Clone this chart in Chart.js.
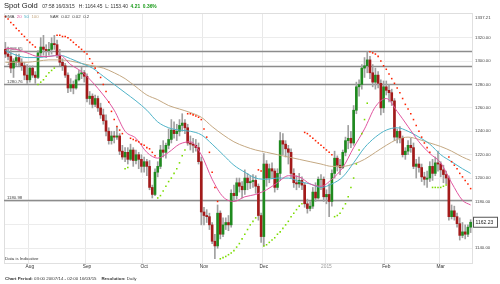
<!DOCTYPE html>
<html>
<head>
<meta charset="utf-8">
<script src="https://cdn.jsdelivr.net/npm/chart.js@4.4.1/dist/chart.umd.min.js"></script>
<style>
  html, body { margin: 0; padding: 0; background: #fff; }
  #wrap { position: relative; width: 500px; height: 284px; font-family: "Liberation Sans", Arial, sans-serif; color: #333; }
  #wrap canvas { position: absolute; left: 0; top: 0; }
  .t { position: absolute; white-space: nowrap; line-height: 1; }
  .head { left: 4px; top: 2px; font-size: 4.9px; }
  .head .name { font-size: 7.6px; color: #222; margin-right: 3px; }
  .head .up { color: #1a9a1a; font-weight: bold; }
  .lg { left: 5px; top: 14.5px; font-size: 4.4px; color: #444; }
  .note { left: 5px; top: 257px; font-size: 4.4px; color: #333; }
  .foot { left: 5px; top: 277px; font-size: 4.4px; color: #333; }
  .foot b { font-weight: bold; }
</style>
</head>
<body>
<div id="wrap">
  <canvas id="chartGold" width="500" height="284"></canvas>
  <div class="t head"><span class="name">Spot Gold</span> 07:58 16/03/15 &nbsp; H: 1164.45 &nbsp;L: 1153.40 &nbsp;<span class="up">4.21 &nbsp;0.36%</span></div>
  <div class="t lg">EMA &nbsp;<span style="color:#e0559f">20</span> &nbsp;<span style="color:#4fb3c8">50</span> &nbsp;<span style="color:#c4a882">100</span> &nbsp; &nbsp; &nbsp; &nbsp; SAR &nbsp;0.02 &nbsp;0.02 &nbsp;0.2</div>
  <div class="t note">Data is Indicative</div>
  <div class="t foot"><b>Chart Period:</b> 03:00 20/07/14 - 02:00 16/03/15 &nbsp; &nbsp;<b>Resolution:</b> Daily</div>
</div>
<script>
// Spot Gold - candele giornaliere con EMA 20/50/100 e Parabolic SAR
// ------------------------------
const monthNames = ['Aug', 'Sep', 'Oct', 'Nov', 'Dec', '2015', 'Feb', 'Mar'];
const monthStart = [9, 30, 51, 73, 95, 118, 140, 160];
const yTicks = [1140, 1160, 1180, 1200, 1220, 1240, 1260, 1280, 1300, 1320, 1337.21];
const levels = [1308.65, 1296.13, 1280.76, 1180.98];

const open = [
  1310,1306,1304,1294,1300,1303,1299,1296,1288,
  1284,1294,1288,1286,1307,1312,1310,1309,1310,1315,1314,1305,1299,1296,1288,1277,1280,1277,1284,1289,1290,
  1287,1268,1270,1263,1268,1260,1254,1249,1240,1232,1236,1235,1236,1223,1218,1222,1216,1224,1215,1220,1216,
  1210,1214,1210,1192,1186,1205,1210,1224,1222,1228,1233,1241,1238,1240,1245,1247,1243,1230,1229,1228,1226,1214,
  1171,1168,1167,1160,1146,1142,1170,1152,1160,1162,1160,1187,1185,1196,1193,1190,1200,1196,1197,1198,1193,1168,
  1150,1212,1200,1208,1206,1192,1204,1232,1229,1225,1222,1204,1196,1195,1198,1194,1178,1174,1176,1188,1183,1199,1199,
  1184,1186,1180,1204,1217,1211,1209,1222,1232,1234,1230,1258,1278,1280,1294,1296,1301,1290,1282,1288,1281,1260,
  1278,1275,1273,1266,1235,1240,1234,1220,1223,1228,1226,1210,1212,1209,1201,1199,1200,1210,1204,1213,
  1212,1207,1203,1200,1167,1172,1167,1161,1151,1154,1152,1158.02
];
const high = [
  1316,1312,1309,1302,1306,1306,1302,1299,1297,
  1296,1296,1291,1309,1320,1322,1314,1316,1320,1322,1318,1310,1302,1298,1290,1285,1283,1288,1292,1295,1292,
  1289,1274,1272,1271,1270,1264,1259,1254,1243,1240,1240,1244,1238,1228,1226,1226,1229,1226,1224,1222,1220,
  1218,1216,1215,1194,1208,1214,1228,1232,1230,1242,1250,1248,1246,1250,1255,1250,1246,1236,1234,1233,1230,1218,
  1175,1173,1170,1162,1152,1177,1172,1166,1166,1168,1190,1194,1200,1200,1197,1207,1204,1202,1203,1202,1195,1170,
  1221,1215,1212,1213,1208,1208,1239,1238,1232,1228,1225,1208,1202,1204,1201,1196,1182,1180,1192,1196,1201,1203,1201,
  1190,1195,1207,1223,1219,1216,1224,1235,1245,1240,1262,1282,1284,1297,1303,1308,1304,1297,1294,1291,1284,1283,
  1283,1280,1276,1268,1242,1244,1236,1226,1232,1234,1230,1216,1218,1212,1205,1206,1214,1216,1218,1223,
  1214,1211,1206,1202,1177,1176,1170,1166,1162,1160,1160,1164.45
];
const low = [
  1303,1301,1290,1286,1296,1296,1292,1284,1281,
  1282,1286,1281,1285,1304,1305,1303,1305,1306,1310,1303,1296,1292,1286,1273,1274,1272,1276,1283,1285,1282,
  1265,1263,1260,1261,1257,1251,1246,1236,1229,1229,1230,1233,1220,1216,1214,1212,1215,1210,1212,1208,1205,
  1205,1202,1190,1183,1185,1201,1208,1218,1217,1225,1230,1234,1232,1236,1240,1238,1228,1224,1222,1223,1212,1160,
  1160,1162,1156,1144,1131,1140,1148,1150,1156,1155,1158,1180,1182,1188,1183,1186,1190,1191,1192,1187,1164,1145,
  1142,1193,1196,1200,1188,1190,1198,1220,1218,1212,1200,1192,1190,1192,1190,1175,1170,1172,1174,1180,1182,1190,1180,
  1178,1167,1176,1200,1206,1203,1208,1219,1225,1226,1228,1255,1270,1276,1286,1290,1285,1278,1276,1277,1254,1256,
  1271,1265,1262,1232,1230,1230,1218,1216,1220,1222,1208,1200,1205,1197,1194,1192,1197,1198,1202,1206,
  1201,1196,1195,1164,1165,1164,1158,1147,1149,1148,1150,1153.40
];
const close = [
  1306,1304,1294,1300,1303,1299,1296,1288,1284,
  1294,1288,1286,1307,1312,1310,1309,1310,1315,1314,1305,1299,1296,1288,1277,1280,1277,1284,1289,1290,1287,
  1268,1270,1263,1268,1260,1254,1249,1240,1232,1236,1235,1236,1223,1218,1222,1216,1224,1215,1220,1216,1210,
  1214,1210,1192,1186,1205,1210,1224,1222,1228,1233,1241,1238,1240,1245,1247,1243,1230,1229,1228,1226,1214,1171,
  1168,1167,1160,1146,1142,1170,1152,1160,1162,1160,1187,1185,1196,1193,1190,1200,1196,1197,1198,1193,1168,1150,
  1212,1200,1208,1206,1192,1204,1232,1229,1225,1222,1204,1196,1195,1198,1194,1178,1174,1176,1188,1183,1199,1199,1184,
  1186,1180,1204,1217,1211,1209,1222,1232,1234,1230,1258,1278,1280,1294,1296,1301,1290,1282,1288,1281,1260,1278,
  1275,1273,1266,1235,1240,1234,1220,1223,1228,1226,1210,1212,1209,1201,1199,1200,1210,1204,1213,1212,
  1207,1203,1200,1167,1172,1167,1161,1151,1154,1152,1158.02,1162.23
];
// Parabolic SAR (0.02, 0.02, 0.2)
const sar = [
  1338,1336,1333,1331,1328,1326,1323,1321,1318,1316,1314,1312,
  1280,1282,1284,1287,1290,1292,1294,
  1322,1322,1321,1321,1320,1318,1316,1314,1312,1310,1308,1306,1302,1298,1294,1290,1286,1280,1274,1265,1257,1250,1244,1241,1238,
  1208,1209,
  1234,1233,1232,1231,1229,1228,1226,1225,1222,1219,
  1183,1185,1189,1193,1197,1200,1204,1208,1213,1219,1224,
  1255,1255,1254,1253,1252,1250,1242,1235,1222,1205,1192,1180,
  1131,1132,1133,1134.5,1136,1138,1141,1144,1148,1152,1156,1160,1163,1166,
  1207,1206,
  1142,1143,1145,1147,1149,1152,1154,1157,1160,1163,1167,1170,1173,1176,1178,
  1239,1238,1236,1234,1232,1230,1228,1226,1224,1222,1220,
  1167,1168,1170,1174,1178,1184,1192,1200,1212,1224,1238,1250,1264,
  1308,1307,1306,1304,1300,1296,1293,1289,1285,1281,1277,1273,1268,1263,1259,1255,1250,1245,1240,1235,1230,1226,1222,
  1192,1192,1192,1192,1193,1194,
  1218,1214,1211,1208,1204,1201,1198,1195,1191
];
// EMA (un punto ogni 4 sedute)
const emaDays = [0,4,8,12,16,20,24,28,32,36,40,44,48,52,56,60,64,68,72,76,80,84,88,92,96,100,104,108,112,116,120,124,128,132,136,140,144,148,152,156,160,164,168,171];
const ema20 = [1311,1310,1307,1304,1304,1305,1297,1291,1282,1271,1258,1240,1234,1222,1217,1222,1229,1231,1220,1199,1184,1180,1184,1186,1190,1196,1202,1201,1195,1193,1199,1209,1226,1242,1261,1268,1257,1244,1231,1221,1213,1196,1181,1177];
const ema50 = [1309,1305,1303,1303,1304,1305,1302,1298,1294,1287,1280,1273,1266,1258,1248,1243,1241,1240,1237,1229,1220,1211,1205,1200,1199,1200,1200,1197,1195,1192,1195,1201,1213,1226,1235,1241,1243,1240,1235,1229,1220,1214,1208,1204];
const ema100 = [1299,1299,1299,1300,1301,1301,1300,1298,1296,1294,1290,1285,1278,1271,1267,1262,1259,1256,1252,1244,1237,1231,1227,1224,1222,1220,1218,1216,1214,1212,1210,1210,1212,1216,1222,1228,1233,1235,1233,1230,1227,1223,1218,1215];

const days = close.map((c, i) => i);
const FONT = '"Liberation Sans", Arial, sans-serif';
const RED = '#a31a1a', GREEN = '#1f8a1f';

const emaLine = (vals, color, ord) => ({
  type: 'line',
  data: emaDays.map((d, k) => ({ x: d, y: vals[k] })),
  borderColor: color,
  borderWidth: 1,
  pointRadius: 0,
  cubicInterpolationMode: 'monotone',
  order: ord
});

// linee orizzontali, etichette e box ultimo prezzo
const overlay = {
  id: 'overlay',
  beforeDatasetsDraw(chart) {
    const { ctx, chartArea: a, scales: { y } } = chart;
    ctx.save();
    ctx.strokeStyle = '#dedede';
    ctx.lineWidth = 1;
    ctx.beginPath();
    ctx.moveTo(a.left, a.top + 0.5);
    ctx.lineTo(a.right, a.top + 0.5);
    ctx.moveTo(a.left + 0.5, a.top);
    ctx.lineTo(a.left + 0.5, a.bottom);
    ctx.stroke();
    ctx.strokeStyle = '#8c8c8c';
    ctx.lineWidth = 1.4;
    ctx.fillStyle = '#444';
    ctx.font = '4.3px ' + FONT;
    ctx.textBaseline = 'bottom';
    levels.forEach(v => {
      const py = Math.round(y.getPixelForValue(v)) + 0.5;
      ctx.beginPath();
      ctx.moveTo(a.left, py);
      ctx.lineTo(a.right, py);
      ctx.stroke();
      ctx.fillText(v.toFixed(2), a.left + 3, py - 1);
    });
    ctx.restore();
  },
  afterDraw(chart) {
    const { ctx, chartArea: a, scales: { y } } = chart;
    const last = close[close.length - 1];
    const py = y.getPixelForValue(last);
    ctx.save();
    ctx.fillStyle = '#fff';
    ctx.strokeStyle = '#555';
    ctx.lineWidth = 1;
    ctx.fillRect(a.right + 1.5, py - 5, 24, 10);
    ctx.strokeRect(a.right + 1.5, py - 5, 24, 10);
    ctx.fillStyle = '#222';
    ctx.font = '5px ' + FONT;
    ctx.textBaseline = 'middle';
    ctx.fillText(last.toFixed(2), a.right + 3.5, py + 0.5);
    ctx.restore();
  }
};

const ctxGold = document.getElementById('chartGold').getContext('2d');
const chartGold = new Chart(ctxGold, {
  type: 'bar',
  data: {
    labels: days,
    datasets: [
      {
        label: 'SAR',
        type: 'line',
        data: sar,
        showLine: false,
        pointStyle: 'rect',
        pointRadius: 1.1,
        pointBorderWidth: 0,
        pointBackgroundColor: sar.map((s, i) => s > close[i] ? '#ff2200' : '#7cdc00'),
        order: 0
      },
      emaLine(ema20, '#e0559f', 1),
      emaLine(ema50, '#4fb3c8', 2),
      emaLine(ema100, '#c4a882', 3),
      {
        label: 'Body',
        data: days.map(i => [open[i], close[i]]),
        backgroundColor: days.map(i => close[i] >= open[i] ? GREEN : RED),
        barThickness: 2,
        grouped: false,
        order: 4
      },
      {
        label: 'Wick',
        data: days.map(i => [low[i], high[i]]),
        backgroundColor: '#a0a0a0',
        barThickness: 1,
        grouped: false,
        order: 5
      }
    ]
  },
  options: {
    responsive: false,
    animation: false,
    events: [],
    layout: { padding: { top: 13, left: 3, right: 0, bottom: 0 } },
    scales: {
      x: {
        type: 'category',
        afterFit: s => { s.height = 21; },
        border: { color: '#e0e0e0' },
        grid: {
          drawTicks: false,
          color: c => monthStart.includes(c.index) ? '#e8e8e8' : 'rgba(0,0,0,0)'
        },
        ticks: {
          autoSkip: false,
          maxRotation: 0,
          padding: 1,
          font: { size: 4.8, family: FONT },
          color: c => c.index === 118 ? '#9a9a9a' : '#333',
          callback: (v, i) => {
            const k = monthStart.indexOf(i);
            return k >= 0 ? monthNames[k] : '';
          }
        }
      },
      y: {
        position: 'right',
        min: 1127.4,
        max: 1341.1,
        afterFit: s => { s.width = 28; },
        afterBuildTicks: s => { s.ticks = yTicks.map(v => ({ value: v })); },
        border: { color: '#e0e0e0' },
        grid: {
          drawTicks: false,
          color: c => c.tick && c.tick.value === 1337.21 ? 'rgba(0,0,0,0)' : '#ececec'
        },
        ticks: {
          padding: 3,
          font: { size: 4.3, family: FONT },
          color: '#444',
          callback: v => Number(v).toFixed(2)
        }
      }
    },
    plugins: {
      legend: { display: false },
      tooltip: { enabled: false }
    }
  },
  plugins: [overlay]
});
</script>
</body>
</html>
